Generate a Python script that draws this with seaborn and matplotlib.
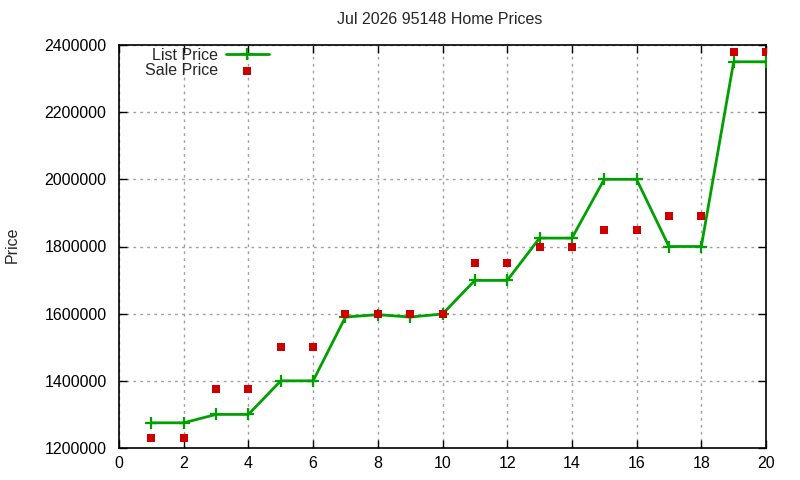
import matplotlib
matplotlib.use("Agg")
import matplotlib.pyplot as plt
import seaborn as sns
import pandas as pd
import numpy as np

months = list(range(1, 21))
list_price = [1275000, 1275000, 1300000, 1300000, 1400000, 1400000,
              1590000, 1597000, 1590000, 1599000, 1699000, 1699000,
              1825000, 1825000, 2000000, 2000000, 1800000, 1800000,
              2350000, 2350000]
sale_price = [1230000, 1230000, 1375000, 1375000, 1500000, 1500000,
              1600000, 1600000, 1600000, 1600000, 1750000, 1750000,
              1800000, 1800000, 1850000, 1850000, 1890000, 1890000,
              2380000, 2380000]
title = "Jul 2026 95148 Home Prices"
xticks = list(range(0, 21, 2))
yticks = list(range(1200000, 2400001, 200000))

df = pd.DataFrame({"x": months, "list": list_price, "sale": sale_price})

sns.set_theme(style="white")
plt.rcParams['font.family'] = ['Liberation Sans', 'DejaVu Sans']
fs = 11.5
plt.rcParams['font.size'] = fs

fig = plt.figure(figsize=(8, 4.8), dpi=100)
ax = fig.add_axes([119/800, 1-448/480, (766-119)/800, (448-45)/480])

sns.lineplot(data=df, x="x", y="list", ax=ax, color="#00a000", linewidth=2,
             marker="+", markersize=8, markeredgewidth=1.6,
             markeredgecolor="#00a000", label="List Price", zorder=3)
sns.scatterplot(data=df, x="x", y="sale", ax=ax, color="#cc0000", marker="s",
                s=38, linewidth=0, label="Sale Price", zorder=4)

ax.set_xlim(0, 20)
ax.set_ylim(1200000, 2400000)
ax.set_xticks(xticks)
ax.set_yticks(yticks)
ax.set_xticklabels([str(v) for v in xticks], fontsize=fs, color="black")
ax.set_yticklabels([str(v) for v in yticks], fontsize=fs, color="black")
ax.grid(True, color="#a0a0a0", linestyle=(0, (2, 3)), linewidth=1)
ax.tick_params(direction="in", length=6, width=1, top=True, right=True,
               bottom=True, left=True, colors="black")
ax.tick_params(axis="y", pad=9)
ax.tick_params(axis="x", pad=6)
for s in ax.spines.values():
    s.set_color("black")
    s.set_linewidth(1.2)
ax.set_xlabel("")
ax.set_ylabel("")
fig.text(12/800, 1-245/480, "Price", rotation=90, ha="center", va="center", fontsize=fs)
fig.text(440/800, 1-20/480, title, ha="center", va="center", fontsize=fs)

leg = ax.legend(loc="upper left", bbox_to_anchor=(0.02, 1.025), frameon=False,
                markerfirst=False, fontsize=fs, handlelength=2.7,
                labelspacing=0.0, borderpad=0.3, handletextpad=0.5)

fig.savefig("out.png", dpi=100)
